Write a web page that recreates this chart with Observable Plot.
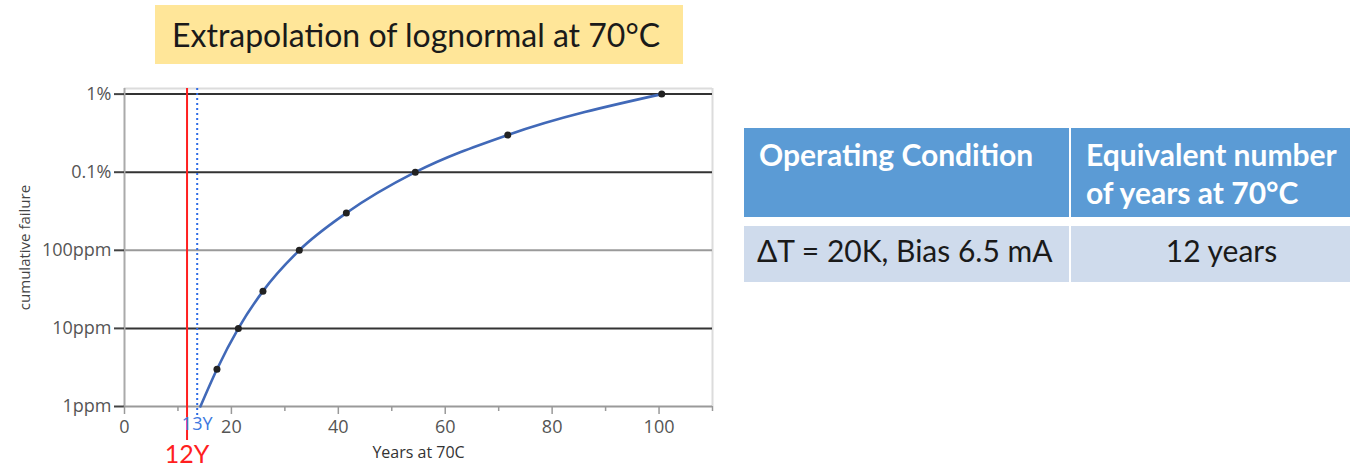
<!DOCTYPE html>
<html>
<head>
<meta charset="utf-8">
<script src="https://cdn.jsdelivr.net/npm/d3@7"></script>
<script src="https://cdn.jsdelivr.net/npm/@observablehq/plot@0.6"></script>
<style>
  body { margin: 0; background: #fff; }
  #page { position: relative; width: 1350px; height: 472px; overflow: hidden; font-family: Lato, sans-serif; background: #fff; }
  #title { position: absolute; left: 155px; top: 5px; width: 528px; height: 59px; background: #FFE699; box-sizing: border-box;
           padding-left: 17px; font-size: 32px; line-height: 59px; color: #1a1a1a; white-space: nowrap; }
  #chart { position: absolute; left: 0; top: 80px; }
  .cell { position: absolute; box-sizing: border-box; font-size: 30px; line-height: 38px; white-space: pre; }
  .head { background: #5B9BD5; color: #fff; font-weight: 700; padding: 7px 0 0 15px; }
  .body { background: #CFDBEC; color: #1a1a1a; padding-top: 5px; }
</style>
</head>
<body>
<div id="page">
  <div id="title"></div>
  <div id="chart"></div>
</div>
<script>
// ---- data ----
const titleText = "Extrapolation of lognormal at 70°C";
const years = [14.2, 17.3, 21.3, 25.9, 32.7, 41.5, 54.4, 71.7, 100.5];
const failure = [1e-6, 3e-6, 1e-5, 3e-5, 1e-4, 3e-4, 1e-3, 3e-3, 1e-2];
const yTicks = [1e-6, 1e-5, 1e-4, 1e-3, 1e-2];
const yTickLabels = ["1ppm", "10ppm", "100ppm", "0.1%", "1%"];
const xMajor = [0, 20, 40, 60, 80, 100];
const xMinor = [10, 30, 50, 70, 90, 110];
const xDomain = [0, 110];
const yDomain = [1e-6, 1.18e-2];
const markerYears = [11.7, 13.6];
const markerLabels = ["12Y", "13Y"];
const xLabel = "Years at 70C";
const yLabel = "cumulative failure";
const tableHeader = ["Operating Condition", "Equivalent number\nof years at 70°C"];
const tableRow = ["ΔT = 20K, Bias 6.5 mA", "12 years"];

// ---- title ----
document.getElementById("title").textContent = titleText;

// ---- table ----
const page = document.getElementById("page");
const cols = [{left: 744, width: 325}, {left: 1071, width: 301}];
tableHeader.forEach((t, i) => {
  const d = document.createElement("div");
  d.className = "cell head";
  Object.assign(d.style, {left: cols[i].left + "px", width: cols[i].width + "px", top: "128px", height: "89px"});
  d.textContent = t;
  page.appendChild(d);
});
tableRow.forEach((t, i) => {
  const d = document.createElement("div");
  d.className = "cell body";
  Object.assign(d.style, {left: cols[i].left + "px", width: cols[i].width + "px", top: "226px", height: "56px",
    paddingLeft: i === 0 ? "13px" : "0", textAlign: i === 0 ? "left" : "center"});
  d.textContent = t;
  page.appendChild(d);
});

// ---- chart ----
const pts = years.map((x, i) => ({year: x, failure: failure[i]}));
const markers = markerYears.map((x, i) => ({x, label: markerLabels[i]}));
const gridColor = d => (d === 1e-4 || d === 1e-6) ? "#9a9a9a" : "#333";
const tickFont = 18;

const chart = Plot.plot({
  width: 730, height: 392,
  marginLeft: 124, marginRight: 18, marginTop: 8, marginBottom: 66,
  style: {fontFamily: "'Open Sans', sans-serif", fontSize: "18px", background: "white", overflow: "visible"},
  x: {domain: xDomain},
  y: {type: "log", domain: yDomain},
  marks: [
    Plot.ruleY([yDomain[1]], {stroke: "#dcdcdc", strokeWidth: 2}),
    Plot.ruleX([xDomain[1]], {stroke: "#dcdcdc", strokeWidth: 2}),
    Plot.ruleY(yTicks, {stroke: gridColor, strokeWidth: 2}),
    Plot.ruleX([xDomain[0]], {stroke: "#aaa", strokeWidth: 2}),
    Plot.axisY(yTicks, {tickSize: 10, tickFormat: () => "", stroke: "#444", strokeWidth: 2, label: null}),
    Plot.axisY(yTicks, {tickSize: 0, tickPadding: 13, tickFormat: d => yTickLabels[yTicks.indexOf(d)], fill: "#555", fontSize: tickFont, label: null}),
    Plot.axisX(xMajor, {tickSize: 8, tickFormat: () => "", stroke: "#999", strokeWidth: 1.5, label: null}),
    Plot.axisX(xMinor, {tickSize: 5, tickFormat: () => "", stroke: "#999", strokeWidth: 1.5, label: null}),
    Plot.axisX(xMajor, {tickSize: 0, tickPadding: 14, fill: "#555", fontSize: tickFont, label: null}),
    Plot.ruleX([markers[1]], {x: "x", stroke: "#2E6BE6", strokeWidth: 2, strokeDasharray: "2,3", insetBottom: -10}),
    Plot.ruleX([markers[0]], {x: "x", stroke: "#FF1F1F", strokeWidth: 2, insetBottom: -34}),
    Plot.line(pts, {x: "year", y: "failure", curve: "monotone-x", stroke: "#4169B8", strokeWidth: 2.6}),
    Plot.dot(pts.slice(1), {x: "year", y: "failure", r: 3.5, fill: "#222", stroke: "none"}),
    Plot.text([markers[1]], {x: "x", text: "label", frameAnchor: "bottom", dy: 23, fill: "#3D78E0", fontSize: tickFont}),
    Plot.text([markers[0]], {x: "x", text: "label", frameAnchor: "bottom", dy: 56, fill: "#FF1F1F", fontSize: 25, fontFamily: "Lato, sans-serif"}),
    Plot.text([xLabel], {text: d => d, frameAnchor: "bottom", dy: 51, fontSize: 16, fill: "#333"}),
    Plot.text([yLabel], {text: d => d, frameAnchor: "left", textAnchor: "middle", dx: -99, rotate: -90, fontSize: 15, fill: "#444"})
  ]
});
document.getElementById("chart").appendChild(chart);
</script>
</body>
</html>
